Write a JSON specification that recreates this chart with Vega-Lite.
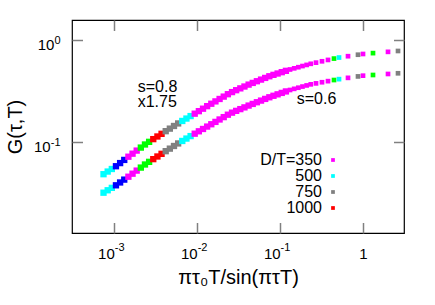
{
  "$schema": "https://vega.github.io/schema/vega-lite/v6.json",
  "width": 332,
  "height": 213,
  "autosize": {"type": "none"},
  "padding": {"left": 72, "top": 20, "right": 31, "bottom": 72},
  "background": "white",
  "config": {
    "font": "Liberation Sans",
    "view": {"stroke": "#000000", "strokeWidth": 1.2},
    "axis": {"grid": false, "domain": false, "labelFont": "Liberation Sans", "titleFont": "Liberation Sans", "labelColor": "#000000", "titleColor": "#000000", "titleFontWeight": "normal", "tickColor": "#808080", "tickWidth": 1.5, "labelFlush": false, "labelOverlap": false}
  },
  "data": {"values": [
    {"c": "s0.8", "DT": "500", "x": 0.000741, "y": 0.04834},
    {"c": "s0.8", "DT": "500", "x": 0.000832, "y": 0.05131},
    {"c": "s0.8", "DT": "500", "x": 0.000933, "y": 0.05436},
    {"c": "s0.8", "DT": "b", "x": 0.001047, "y": 0.05787},
    {"c": "s0.8", "DT": "b", "x": 0.001175, "y": 0.06213},
    {"c": "s0.8", "DT": "b", "x": 0.001318, "y": 0.06673},
    {"c": "s0.8", "DT": "350", "x": 0.001479, "y": 0.07174},
    {"c": "s0.8", "DT": "350", "x": 0.00166, "y": 0.07681},
    {"c": "s0.8", "DT": "350", "x": 0.001862, "y": 0.08235},
    {"c": "s0.8", "DT": "g", "x": 0.002089, "y": 0.08815},
    {"c": "s0.8", "DT": "g", "x": 0.002344, "y": 0.09452},
    {"c": "s0.8", "DT": "g", "x": 0.00263, "y": 0.10035},
    {"c": "s0.8", "DT": "1000", "x": 0.002951, "y": 0.10668},
    {"c": "s0.8", "DT": "1000", "x": 0.003311, "y": 0.11325},
    {"c": "s0.8", "DT": "1000", "x": 0.003715, "y": 0.12028},
    {"c": "s0.8", "DT": "750", "x": 0.004169, "y": 0.12764},
    {"c": "s0.8", "DT": "750", "x": 0.004677, "y": 0.13523},
    {"c": "s0.8", "DT": "750", "x": 0.005248, "y": 0.14355},
    {"c": "s0.8", "DT": "750", "x": 0.005888, "y": 0.15205},
    {"c": "s0.8", "DT": "500", "x": 0.006607, "y": 0.16077},
    {"c": "s0.8", "DT": "500", "x": 0.007413, "y": 0.16974},
    {"c": "s0.8", "DT": "500", "x": 0.00832, "y": 0.17947},
    {"c": "s0.8", "DT": "350", "x": 0.00933, "y": 0.1895},
    {"c": "s0.8", "DT": "350", "x": 0.01047, "y": 0.2006},
    {"c": "s0.8", "DT": "350", "x": 0.01175, "y": 0.21204},
    {"c": "s0.8", "DT": "350", "x": 0.01318, "y": 0.22452},
    {"c": "s0.8", "DT": "350", "x": 0.01479, "y": 0.23714},
    {"c": "s0.8", "DT": "350", "x": 0.0166, "y": 0.25003},
    {"c": "s0.8", "DT": "350", "x": 0.01862, "y": 0.2641},
    {"c": "s0.8", "DT": "350", "x": 0.02089, "y": 0.27858},
    {"c": "s0.8", "DT": "350", "x": 0.02344, "y": 0.29409},
    {"c": "s0.8", "DT": "350", "x": 0.0263, "y": 0.30843},
    {"c": "s0.8", "DT": "350", "x": 0.02951, "y": 0.32187},
    {"c": "s0.8", "DT": "350", "x": 0.03311, "y": 0.33556},
    {"c": "s0.8", "DT": "350", "x": 0.03715, "y": 0.34986},
    {"c": "s0.8", "DT": "350", "x": 0.04169, "y": 0.36517},
    {"c": "s0.8", "DT": "350", "x": 0.04677, "y": 0.37947},
    {"c": "s0.8", "DT": "350", "x": 0.05248, "y": 0.39416},
    {"c": "s0.8", "DT": "350", "x": 0.05888, "y": 0.40908},
    {"c": "s0.8", "DT": "350", "x": 0.06607, "y": 0.4248},
    {"c": "s0.8", "DT": "350", "x": 0.07413, "y": 0.44085},
    {"c": "s0.8", "DT": "350", "x": 0.0832, "y": 0.45518},
    {"c": "s0.8", "DT": "350", "x": 0.0933, "y": 0.46912},
    {"c": "s0.8", "DT": "350", "x": 0.1047, "y": 0.4834},
    {"c": "s0.8", "DT": "350", "x": 0.1175, "y": 0.4984},
    {"c": "s0.8", "DT": "350", "x": 0.1318, "y": 0.5138},
    {"c": "s0.8", "DT": "350", "x": 0.1479, "y": 0.5274},
    {"c": "s0.8", "DT": "350", "x": 0.166, "y": 0.5409},
    {"c": "s0.8", "DT": "350", "x": 0.1862, "y": 0.5552},
    {"c": "s0.8", "DT": "350", "x": 0.2089, "y": 0.5695},
    {"c": "s0.8", "DT": "350", "x": 0.2344, "y": 0.5841},
    {"c": "s0.8", "DT": "350", "x": 0.271, "y": 0.5996},
    {"c": "s0.8", "DT": "350", "x": 0.3201, "y": 0.6182},
    {"c": "s0.8", "DT": "350", "x": 0.3783, "y": 0.6374},
    {"c": "s0.8", "DT": "g", "x": 0.4468, "y": 0.6571},
    {"c": "s0.8", "DT": "500", "x": 0.5134, "y": 0.6729},
    {"c": "s0.8", "DT": "350", "x": 0.6594, "y": 0.6934},
    {"c": "s0.8", "DT": "750", "x": 0.8703, "y": 0.717},
    {"c": "s0.8", "DT": "350", "x": 1.0, "y": 0.729},
    {"c": "s0.8", "DT": "g", "x": 1.32, "y": 0.7434},
    {"c": "s0.8", "DT": "350", "x": 2.003, "y": 0.7651},
    {"c": "s0.8", "DT": "750", "x": 2.644, "y": 0.7802},
    {"c": "s0.6", "DT": "500", "x": 0.000741, "y": 0.031833},
    {"c": "s0.6", "DT": "500", "x": 0.000832, "y": 0.03364},
    {"c": "s0.6", "DT": "500", "x": 0.000933, "y": 0.03551},
    {"c": "s0.6", "DT": "b", "x": 0.001047, "y": 0.03762},
    {"c": "s0.6", "DT": "b", "x": 0.001175, "y": 0.040105},
    {"c": "s0.6", "DT": "b", "x": 0.001318, "y": 0.042765},
    {"c": "s0.6", "DT": "350", "x": 0.001479, "y": 0.04567},
    {"c": "s0.6", "DT": "350", "x": 0.00166, "y": 0.0489},
    {"c": "s0.6", "DT": "350", "x": 0.001862, "y": 0.05242},
    {"c": "s0.6", "DT": "g", "x": 0.002089, "y": 0.05612},
    {"c": "s0.6", "DT": "g", "x": 0.002344, "y": 0.06017},
    {"c": "s0.6", "DT": "g", "x": 0.00263, "y": 0.06388},
    {"c": "s0.6", "DT": "1000", "x": 0.002951, "y": 0.06791},
    {"c": "s0.6", "DT": "1000", "x": 0.003311, "y": 0.0721},
    {"c": "s0.6", "DT": "1000", "x": 0.003715, "y": 0.07657},
    {"c": "s0.6", "DT": "750", "x": 0.004169, "y": 0.08126},
    {"c": "s0.6", "DT": "750", "x": 0.004677, "y": 0.08609},
    {"c": "s0.6", "DT": "750", "x": 0.005248, "y": 0.09138},
    {"c": "s0.6", "DT": "750", "x": 0.005888, "y": 0.0968},
    {"c": "s0.6", "DT": "500", "x": 0.006607, "y": 0.10235},
    {"c": "s0.6", "DT": "500", "x": 0.007413, "y": 0.10806},
    {"c": "s0.6", "DT": "500", "x": 0.00832, "y": 0.11425},
    {"c": "s0.6", "DT": "350", "x": 0.00933, "y": 0.12064},
    {"c": "s0.6", "DT": "350", "x": 0.01047, "y": 0.12735},
    {"c": "s0.6", "DT": "350", "x": 0.01175, "y": 0.13418},
    {"c": "s0.6", "DT": "350", "x": 0.01318, "y": 0.14165},
    {"c": "s0.6", "DT": "350", "x": 0.01479, "y": 0.14928},
    {"c": "s0.6", "DT": "350", "x": 0.0166, "y": 0.15743},
    {"c": "s0.6", "DT": "350", "x": 0.01862, "y": 0.16626},
    {"c": "s0.6", "DT": "350", "x": 0.02089, "y": 0.17534},
    {"c": "s0.6", "DT": "350", "x": 0.02344, "y": 0.18516},
    {"c": "s0.6", "DT": "350", "x": 0.0263, "y": 0.19397},
    {"c": "s0.6", "DT": "350", "x": 0.02951, "y": 0.2019},
    {"c": "s0.6", "DT": "350", "x": 0.03311, "y": 0.21005},
    {"c": "s0.6", "DT": "350", "x": 0.03715, "y": 0.21844},
    {"c": "s0.6", "DT": "350", "x": 0.04169, "y": 0.22749},
    {"c": "s0.6", "DT": "350", "x": 0.04677, "y": 0.23622},
    {"c": "s0.6", "DT": "350", "x": 0.05248, "y": 0.24535},
    {"c": "s0.6", "DT": "350", "x": 0.05888, "y": 0.2546},
    {"c": "s0.6", "DT": "350", "x": 0.06607, "y": 0.26447},
    {"c": "s0.6", "DT": "350", "x": 0.07413, "y": 0.2744},
    {"c": "s0.6", "DT": "350", "x": 0.0832, "y": 0.28384},
    {"c": "s0.6", "DT": "350", "x": 0.0933, "y": 0.29328},
    {"c": "s0.6", "DT": "350", "x": 0.1047, "y": 0.30286},
    {"c": "s0.6", "DT": "350", "x": 0.1175, "y": 0.31307},
    {"c": "s0.6", "DT": "350", "x": 0.1318, "y": 0.32343},
    {"c": "s0.6", "DT": "350", "x": 0.1479, "y": 0.33196},
    {"c": "s0.6", "DT": "350", "x": 0.166, "y": 0.34054},
    {"c": "s0.6", "DT": "350", "x": 0.1862, "y": 0.34952},
    {"c": "s0.6", "DT": "350", "x": 0.2089, "y": 0.35848},
    {"c": "s0.6", "DT": "350", "x": 0.2344, "y": 0.36746},
    {"c": "s0.6", "DT": "350", "x": 0.271, "y": 0.3755},
    {"c": "s0.6", "DT": "350", "x": 0.3201, "y": 0.3852},
    {"c": "s0.6", "DT": "350", "x": 0.3783, "y": 0.3949},
    {"c": "s0.6", "DT": "g", "x": 0.4468, "y": 0.405},
    {"c": "s0.6", "DT": "500", "x": 0.5134, "y": 0.4131},
    {"c": "s0.6", "DT": "350", "x": 0.6594, "y": 0.4254},
    {"c": "s0.6", "DT": "750", "x": 0.8703, "y": 0.4394},
    {"c": "s0.6", "DT": "350", "x": 1.0, "y": 0.4467},
    {"c": "s0.6", "DT": "g", "x": 1.32, "y": 0.4537},
    {"c": "s0.6", "DT": "350", "x": 2.003, "y": 0.4643},
    {"c": "s0.6", "DT": "750", "x": 2.644, "y": 0.4716}
  ]},
  "resolve": {"axis": {"x": "independent", "y": "independent"}},
  "layer": [
    {
      "transform": [{"filter": "datum.x < 0.12"}],
      "mark": {"type": "square", "size": 40, "opacity": 1},
      "encoding": {
        "x": {"field": "x", "type": "quantitative", "scale": {"type": "log", "domain": [0.0003088, 3.122]},
          "axis": {"orient": "bottom", "values": [0.001, 0.01, 0.1, 1], "tickSize": -10.5, "labelFontSize": 15, "labelPadding": 35.8, "labelBaseline": "alphabetic",
            "labelAlign": {"condition": {"test": "datum.value >= 0.5", "value": "center"}, "value": "right"}, "labelDx": 1,
            "labelExpr": "datum.value >= 0.5 ? '1' : '10'",
            "title": "πτ₀T/sin(πτT)", "titleFontSize": 20, "titleBaseline": "alphabetic", "titleY": 50}},
        "y": {"field": "y", "type": "quantitative", "scale": {"type": "log", "domain": [0.01282, 1.57]},
          "axis": {"orient": "left", "values": [0.1, 1], "tickSize": -10.5, "labelFontSize": 15, "labelAlign": "right", "labelBaseline": "alphabetic", "labelOffset": 9.7,
            "labelPadding": {"condition": {"test": "datum.value >= 0.5", "value": 28.6}, "value": 32.3},
            "labelExpr": "'10'",
            "title": "G(τ,T)", "titleFontSize": 20, "titleBaseline": "middle", "titleX": -57}},
        "color": {"field": "DT", "type": "nominal",
          "scale": {"domain": ["350", "500", "750", "1000", "b", "g"], "range": ["#ff00ff", "#00ffff", "#808080", "#ff0000", "#0000ff", "#00ff00"]},
          "legend": {"orient": "none", "legendX": 253, "legendY": 132, "padding": 0, "title": null, "values": ["350", "500", "750", "1000"],
            "symbolType": "square", "symbolSize": 14, "symbolStrokeWidth": 0, "symbolOpacity": 1,
            "labelFontSize": 16, "labelFont": "Liberation Sans", "labelColor": "#000000", "labelAlign": "right", "labelOffset": -19, "rowPadding": 0,
            "labelExpr": "datum.label == '350' ? 'D/T=350' : datum.label"}}
      }
    },
    {
      "transform": [{"filter": "datum.x >= 0.12"}],
      "mark": {"type": "square", "size": 22, "opacity": 1},
      "encoding": {
        "x": {"field": "x", "type": "quantitative", "scale": {"type": "log", "domain": [0.0003088, 3.122]},
          "axis": {"orient": "top", "values": [0.001, 0.01, 0.1, 1], "tickSize": -10.5, "labels": false, "title": null}},
        "y": {"field": "y", "type": "quantitative", "scale": {"type": "log", "domain": [0.01282, 1.57]},
          "axis": {"orient": "right", "values": [0.1, 1], "tickSize": -10.5, "labels": false, "title": null}},
        "color": {"field": "DT", "type": "nominal",
          "scale": {"domain": ["350", "500", "750", "1000", "b", "g"], "range": ["#ff00ff", "#00ffff", "#808080", "#ff0000", "#0000ff", "#00ff00"]},
          "legend": {"orient": "none", "legendX": 253, "legendY": 132, "padding": 0, "title": null, "values": ["350", "500", "750", "1000"],
            "symbolType": "square", "symbolSize": 14, "symbolStrokeWidth": 0, "symbolOpacity": 1,
            "labelFontSize": 16, "labelFont": "Liberation Sans", "labelColor": "#000000", "labelAlign": "right", "labelOffset": -19, "rowPadding": 0,
            "labelExpr": "datum.label == '350' ? 'D/T=350' : datum.label"}}
      }
    },
    {
      "data": {"values": [
        {"x": 0.0019155, "y": 0.3112, "t": "s=0.8"},
        {"x": 0.0019155, "y": 0.2189, "t": "x1.75"},
        {"x": 0.1586, "y": 0.2358, "t": "s=0.6"}
      ]},
      "mark": {"type": "text", "align": "left", "baseline": "alphabetic", "fontSize": 16, "font": "Liberation Sans", "color": "#000000"},
      "encoding": {
        "x": {"field": "x", "type": "quantitative", "scale": {"type": "log", "domain": [0.0003088, 3.122]},
          "axis": {"orient": "bottom", "values": [0.001, 0.01, 0.1, 1], "ticks": false, "labelFontSize": 11, "labelPadding": 17.5, "labelBaseline": "alphabetic", "labelAlign": "left", "labelDx": 1,
            "labelExpr": "datum.value >= 0.5 ? '' : datum.value >= 0.05 ? '-1' : datum.value >= 0.005 ? '-2' : '-3'", "title": null}},
        "y": {"field": "y", "type": "quantitative", "scale": {"type": "log", "domain": [0.01282, 1.57]},
          "axis": {"orient": "left", "values": [0.1, 1], "ticks": false, "labelFontSize": 11, "labelPadding": 12, "labelAlign": "right", "labelBaseline": "alphabetic", "labelOffset": 3.3,
            "labelExpr": "datum.value >= 0.5 ? '0' : '-1'", "title": null}},
        "text": {"field": "t", "type": "nominal"}
      }
    }
  ]
}
